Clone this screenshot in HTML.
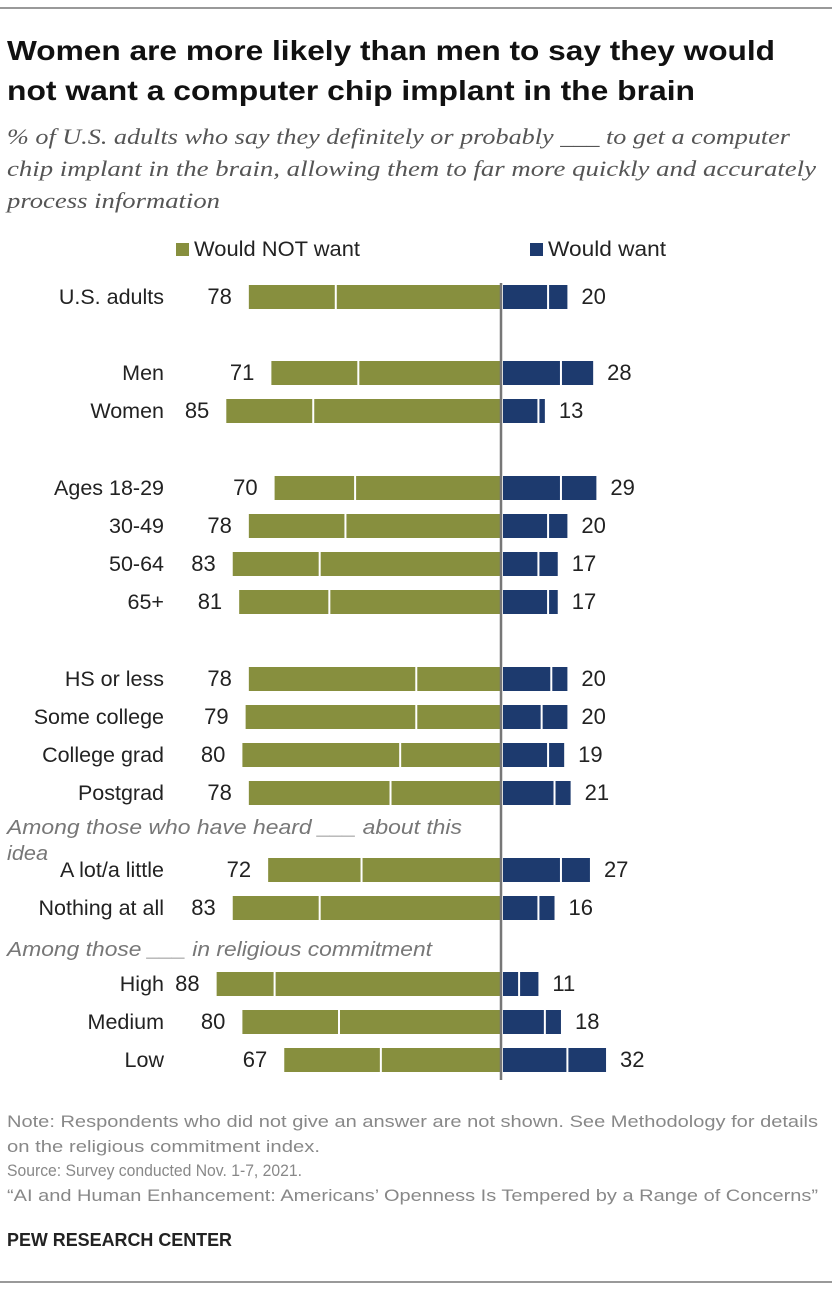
<!DOCTYPE html>
<html><head><meta charset="utf-8">
<style>
body{margin:0;background:#fff;width:840px;height:1290px;overflow:hidden;font-family:"Liberation Sans",sans-serif;}
svg text{font-family:"Liberation Sans",sans-serif;}
</style></head><body>
<svg id="chart" width="840" height="1290" xmlns="http://www.w3.org/2000/svg">
<line x1="0" y1="8" x2="832" y2="8" stroke="#333" stroke-width="1"/>
<text x="7" y="60" font-size="28" font-weight="bold" fill="#111" textLength="768" lengthAdjust="spacingAndGlyphs">Women are more likely than men to say they would</text>
<text x="7" y="100" font-size="28" font-weight="bold" fill="#111" textLength="688" lengthAdjust="spacingAndGlyphs">not want a computer chip implant in the brain</text>
<g font-style="italic" font-size="22.5" fill="#555">
<text x="7" y="144" style="font-family:'Liberation Serif',serif" textLength="783" lengthAdjust="spacingAndGlyphs">% of U.S. adults who say they definitely or probably ___ to get a computer</text>
<text x="7" y="176" style="font-family:'Liberation Serif',serif" textLength="809" lengthAdjust="spacingAndGlyphs">chip implant in the brain, allowing them to far more quickly and accurately</text>
<text x="7" y="208" style="font-family:'Liberation Serif',serif" textLength="213" lengthAdjust="spacingAndGlyphs">process information</text>
</g>
<rect x="176" y="243" width="13" height="13" fill="#878f3e"/>
<text x="194" y="256" font-size="21" fill="#222" textLength="166" lengthAdjust="spacingAndGlyphs">Would NOT want</text>
<rect x="530" y="243" width="13" height="13" fill="#1d3a6e"/>
<text x="548" y="256" font-size="21" fill="#222" textLength="118" lengthAdjust="spacingAndGlyphs">Would want</text>
<g id="bars"></g>
<line x1="501" y1="283" x2="501" y2="1080" stroke="#777" stroke-width="2.5"/>
<text x="7" y="834" font-size="20" font-style="italic" fill="#777" textLength="455" lengthAdjust="spacingAndGlyphs">Among those who have heard ___  about this</text>
<text x="7" y="860" font-size="20" font-style="italic" fill="#777" textLength="41" lengthAdjust="spacingAndGlyphs">idea</text>
<text x="7" y="956" font-size="20" font-style="italic" fill="#777" textLength="425" lengthAdjust="spacingAndGlyphs">Among those ___ in religious commitment</text>
<g font-size="17" fill="#888">
<text x="7" y="1127" textLength="811" lengthAdjust="spacingAndGlyphs">Note: Respondents who did not give an answer are not shown. See Methodology for details</text>
<text x="7" y="1152" textLength="313" lengthAdjust="spacingAndGlyphs">on the religious commitment index.</text>
<text x="7" y="1176" textLength="295" lengthAdjust="spacingAndGlyphs">Source: Survey conducted Nov. 1-7, 2021.</text>
<text x="7" y="1201" textLength="811" lengthAdjust="spacingAndGlyphs">“AI and Human Enhancement: Americans’ Openness Is Tempered by a Range of Concerns”</text>
</g>
<text x="7" y="1246" font-size="18" font-weight="bold" fill="#222" textLength="225" lengthAdjust="spacingAndGlyphs">PEW RESEARCH CENTER</text>
<line x1="0" y1="1282" x2="832" y2="1282" stroke="#333" stroke-width="1"/>
</svg>
<script>
const categories=["U.S. adults","Men","Women","Ages 18-29","30-49","50-64","65+","HS or less","Some college","College grad","Postgrad","A lot/a little","Nothing at all","High","Medium","Low"];
const notWantTotal=[78,71,85,70,78,83,81,78,79,80,78,72,83,88,80,67];
const notWantDefinitely=[51,44,58,45,48,56,53,26,26,31,34,43,56,70,50,37];
const wantTotal=[20,28,13,29,20,17,17,20,20,19,21,27,16,11,18,32];
const wantProbably=[14,18,11,18,14,11,14,15,12,14,16,18,11,5,13,20];
const rowY=[297,373,411,488,526,564,602,679,717,755,793,870,908,984,1022,1060];
const CX=501, S=3.22, BH=24;
const xl=v=>CX-1-v*S, xr=v=>CX+2+v*S;
const g=document.getElementById('bars');
const NS='http://www.w3.org/2000/svg';
function mk(tag,a){const e=document.createElementNS(NS,tag);for(const k in a)e.setAttribute(k,a[k]);g.appendChild(e);return e;}
categories.forEach((c,i)=>{
  const y=rowY[i]-BH/2;
  let t=mk('text',{x:164,y:rowY[i]+7,'font-size':21.5,'text-anchor':'end',fill:'#222'});t.textContent=c;
  
  
  let b=mk('rect',{x:xl(notWantTotal[i]),y:y,width:notWantTotal[i]*S,height:BH,fill:'#878f3e'});
  
  
  let d=mk('line',{x1:xl(notWantDefinitely[i]),x2:xl(notWantDefinitely[i]),y1:y,y2:y+BH,stroke:'#fff','stroke-width':2});
  
  
  let b2=mk('rect',{x:CX+2,y:y,width:wantTotal[i]*S,height:BH,fill:'#1d3a6e'});
  
  
  let d2=mk('line',{x1:xr(wantProbably[i]),x2:xr(wantProbably[i]),y1:y,y2:y+BH,stroke:'#fff','stroke-width':2});
  
  
  let v1=mk('text',{x:xl(notWantTotal[i])-17,y:rowY[i]+7,'font-size':22,'text-anchor':'end',fill:'#222'});v1.textContent=notWantTotal[i];
  
  
  let v2=mk('text',{x:xr(wantTotal[i])+14,y:rowY[i]+7,'font-size':22,fill:'#222'});v2.textContent=wantTotal[i];
  
  
});
</script>
</body></html>
